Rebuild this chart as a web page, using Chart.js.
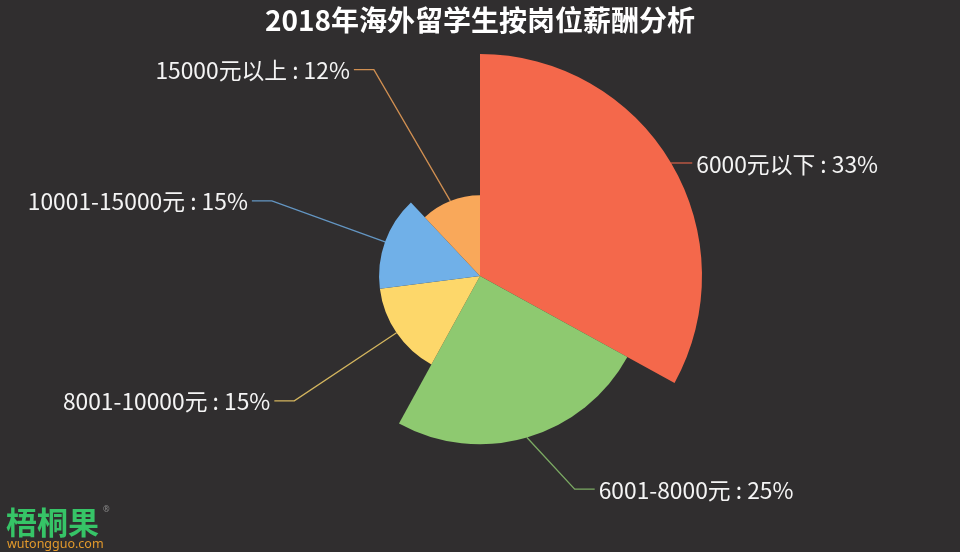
<!DOCTYPE html>
<html>
<head>
<meta charset="utf-8">
<script src="https://cdn.jsdelivr.net/npm/chart.js@4/dist/chart.umd.min.js"></script>
<style>
  html, body { margin: 0; padding: 0; background: #302e2f; }
  #wrap { width: 960px; height: 552px; }
</style>
</head>
<body>
<div id="wrap"><canvas id="c" width="960" height="552"></canvas></div>
<script>
const titleText = '2018年海外留学生按岗位薪酬分析';
const categories = ['6000元以下', '6001-8000元', '8001-10000元', '10001-15000元', '15000元以上'];
const percents = [33, 25, 15, 15, 12];
const colors = ['#f4684b', '#8ec970', '#fdd76a', '#70b0e8', '#f9a85a'];

const total = percents.reduce((a, b) => a + b, 0);
const BG = '#302e2f';

const bgPlugin = {
  id: 'bg',
  beforeDraw(chart) {
    const ctx = chart.ctx;
    ctx.save();
    ctx.fillStyle = BG;
    ctx.fillRect(0, 0, chart.width, chart.height);
    ctx.restore();
  }
};

const labelPlugin = {
  id: 'roseLabels',
  afterDatasetsDraw(chart) {
    const ctx = chart.ctx;
    const meta = chart.getDatasetMeta(0);
    const scale = chart.scales.r;
    const cx = scale.xCenter, cy = scale.yCenter, R = scale.drawingArea;
    const LEN = 0, LEN2 = 20, GAP = 4, TEXT_R = R + 22;
    ctx.save();
    ctx.font = '22.8px "Noto Sans CJK SC", "Noto Sans", sans-serif';
    ctx.textBaseline = 'middle';
    meta.data.forEach((arc, i) => {
      const p = arc.getProps(['startAngle', 'endAngle', 'outerRadius'], true);
      const mid = (p.startAngle + p.endAngle) / 2;
      const dx = Math.cos(mid), dy = Math.sin(mid);
      const x1 = cx + p.outerRadius * dx, y1 = cy + p.outerRadius * dy;
      const ly = cy + (R + LEN) * dy;
      const dir = dx < 0 ? -1 : 1;
      const dY = ly - cy;
      const tx = cx + dir * Math.sqrt(Math.max(TEXT_R * TEXT_R - dY * dY, 0));
      const x3 = tx - dir * GAP;
      const x2 = x3 - dir * LEN2;
      ctx.strokeStyle = colors[i];
      ctx.globalAlpha = 0.8;
      ctx.lineWidth = 1.3;
      ctx.beginPath();
      ctx.moveTo(x1, y1);
      ctx.lineTo(x2, ly);
      ctx.lineTo(x3, ly);
      ctx.stroke();
      ctx.globalAlpha = 1;
      ctx.fillStyle = '#f4f4f4';
      ctx.textAlign = dir < 0 ? 'right' : 'left';
      ctx.fillText(categories[i] + ' : ' + percents[i] + '%', tx, ly + 1);
    });
    ctx.restore();
  }
};

const logoPlugin = {
  id: 'logo',
  afterDraw(chart) {
    const ctx = chart.ctx;
    ctx.save();
    ctx.textBaseline = 'alphabetic';
    ctx.textAlign = 'left';
    ctx.fillStyle = '#36c467';
    ctx.font = 'bold 31px "Noto Sans CJK SC", sans-serif';
    ctx.fillText('梧桐果', 6, 534);
    ctx.font = '8px "Noto Sans", sans-serif';
    ctx.fillStyle = '#8a8a8a';
    ctx.fillText('®', 103, 512);
    ctx.fillStyle = '#e39a2c';
    ctx.font = '12.5px "Noto Sans", "DejaVu Sans", sans-serif';
    ctx.fillText('wutongguo.com', 7, 548);
    ctx.restore();
  }
};

new Chart(document.getElementById('c'), {
  type: 'polarArea',
  data: {
    labels: categories,
    datasets: [{
      data: percents,
      backgroundColor: colors,
      borderWidth: 0,
      angle: (ctx) => percents[ctx.dataIndex] / total * 360
    }]
  },
  options: {
    responsive: false,
    animation: false,
    layout: { padding: { top: 0, left: 258, right: 258, bottom: 54 } },
    scales: {
      r: {
        display: false,
        min: 0,
        max: Math.max(...percents),
        startAngle: 0
      }
    },
    plugins: {
      legend: { display: false },
      tooltip: { enabled: false },
      title: {
        display: true,
        text: titleText,
        color: '#ffffff',
        font: { family: '"Noto Sans CJK SC", sans-serif', size: 28, weight: 'bold', lineHeight: 1 },
        padding: { top: 6, bottom: 20 }
      }
    }
  },
  plugins: [bgPlugin, labelPlugin, logoPlugin]
});
</script>
</body>
</html>
